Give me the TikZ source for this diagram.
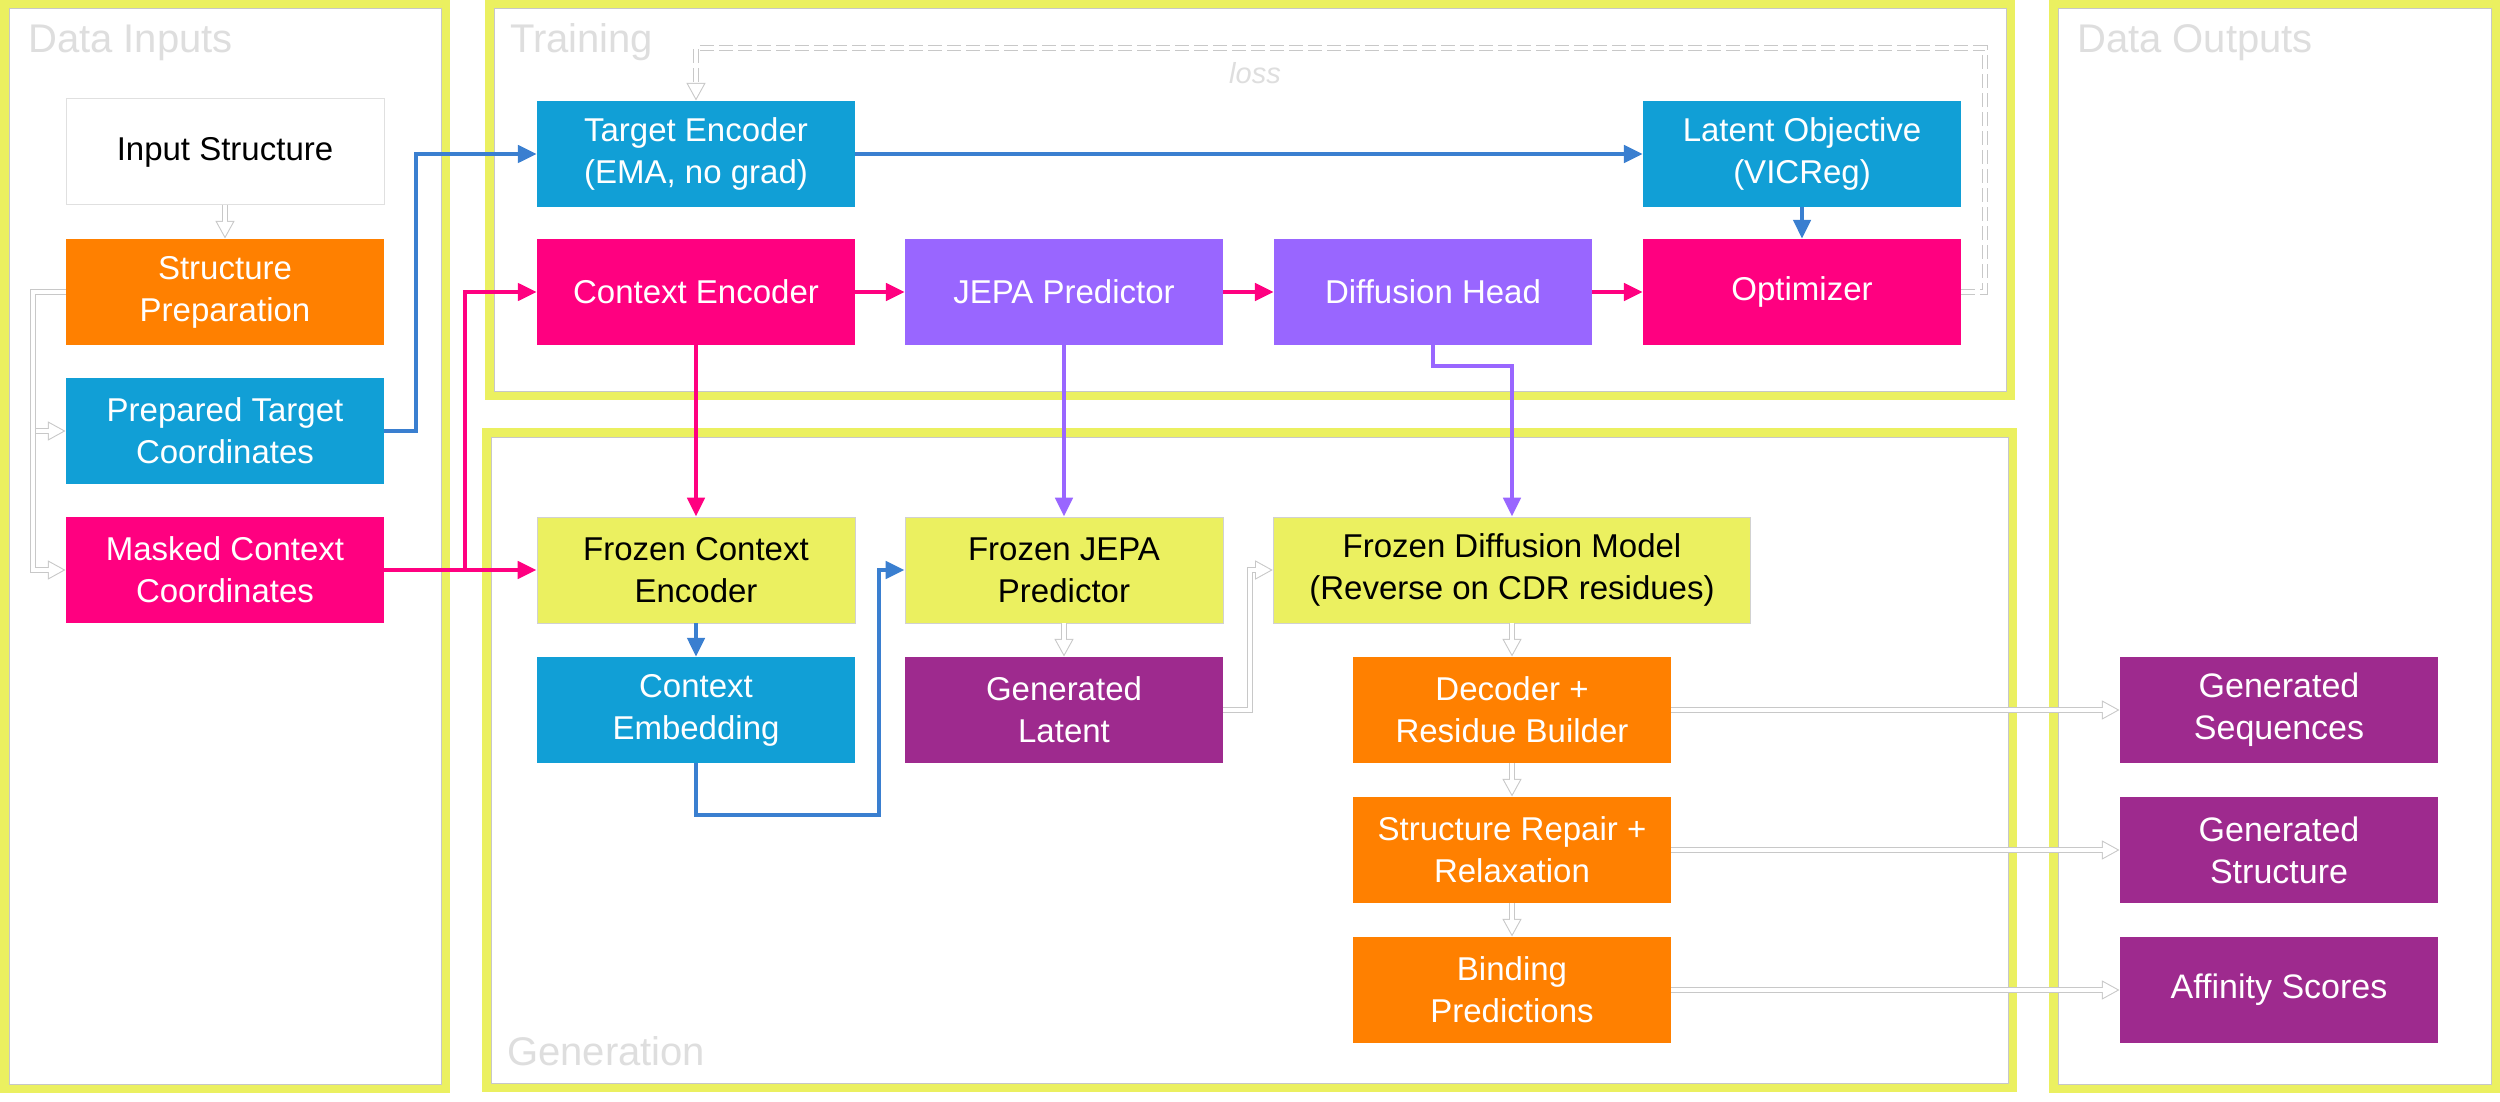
\documentclass[tikz,border=0pt]{standalone}
\usepackage{fontspec}
\setmainfont{Liberation Sans}
\usetikzlibrary{arrows.meta}
\definecolor{cblue}{HTML}{119FD6}
\definecolor{corange}{HTML}{FF8000}
\definecolor{cmag}{HTML}{FF0080}
\definecolor{cpurp}{HTML}{9966FF}
\definecolor{cdpurp}{HTML}{9E2A8E}
\definecolor{cyel}{HTML}{EBF060}
\definecolor{ablue}{HTML}{3A7FD0}
\definecolor{hcol}{HTML}{C8C8C8}
\newcommand\hollowpath[2][]{\draw[hol,#1] #2; \draw[holin,#1] #2;}
\tikzset{
 box/.style={minimum width=318pt, minimum height=106pt, inner sep=0pt, align=center,
   font=\fontsize{33}{42}\selectfont, text=white},
 bluebox/.style={box, fill=cblue},
 orbox/.style={box, fill=corange},
 magbox/.style={box, fill=cmag},
 purbox/.style={box, fill=cpurp},
 dpbox/.style={box, fill=cdpurp},
 outbox/.style={box, fill=cdpurp, font=\fontsize{34}{42}\selectfont},
 frzbox/.style={box, fill=cyel, text=black, draw=black!18, line width=0.8pt},
 whbox/.style={box, fill=white, text=black, draw=black!12, line width=1pt},
 frameline/.style={draw=cyel, line width=9pt},
 frameinner/.style={draw=black!22, line width=1pt},
 grptitle/.style={font=\fontsize{40}{48}\selectfont, text=black!13, anchor=base west, inner sep=0pt},
 arr/.style={line width=4.5pt, -{Triangle[length=19pt,width=17pt]}},
 hol/.style={draw=hcol, line width=6pt, -{Triangle[length=18pt,width=18pt]}},
 holin/.style={draw=white, line width=4pt, shorten >=2.2pt, -{Triangle[length=14.8pt,width=14.8pt]}},
}
\begin{document}
\begin{tikzpicture}[x=1pt,y=-1pt]
\path[use as bounding box, fill=white] (0,0) rectangle (2500,1102);
% frames
\draw[frameline] (4.5,4.5) rectangle (445.5,1088.5);
\draw[frameinner] (9,9) rectangle (441,1084);
\draw[frameline] (489.5,4.5) rectangle (2010.5,395.5);
\draw[frameinner] (494,9) rectangle (2006,391);
\draw[frameline] (486.5,432.5) rectangle (2012.5,1087.5);
\draw[frameinner] (491,437) rectangle (2008,1083);
\draw[frameline] (2053.5,4.5) rectangle (2495.5,1088.5);
\draw[frameinner] (2058,9) rectangle (2491,1084);
% titles
\node[grptitle] (tdi) at (28,53) {Data Inputs};
\node[grptitle] (ttr) at (510,53) {Training};
\node[grptitle] (tdo) at (2077,53) {Data Outputs};
\node[grptitle] (tge) at (507,1065) {Generation};
% data inputs
\node[whbox] (inp) at (225,152) {Input Structure};
\node[orbox] (prep) at (225,292) {Structure\\Preparation};
\node[bluebox] (ptc) at (225,431) {Prepared Target\\Coordinates};
\node[magbox] (mcc) at (225,570) {Masked Context\\Coordinates};
% training
\node[bluebox] (tenc) at (696,154) {Target Encoder\\(EMA, no grad)};
\node[magbox] (cenc) at (696,292) {Context Encoder};
\node[purbox] (jepa) at (1064,292) {JEPA Predictor};
\node[purbox] (dhead) at (1433,292) {Diffusion Head};
\node[magbox] (opt) at (1802,292) {Optimizer};
\node[bluebox] (lobj) at (1802,154) {Latent Objective\\(VICReg)};
% generation
\node[frzbox] (fcenc) at (696,570) {Frozen Context\\Encoder};
\node[bluebox] (cemb) at (696,710) {Context\\Embedding};
\node[frzbox] (fjepa) at (1064,570) {Frozen JEPA\\Predictor};
\node[dpbox] (glat) at (1064,710) {Generated\\Latent};
\node[frzbox, minimum width=477pt] (fdiff) at (1512,570) {Frozen Diffusion Model\\(Reverse on CDR residues)};
\node[orbox] (dec) at (1512,710) {Decoder +\\Residue Builder};
\node[orbox] (srep) at (1512,850) {Structure Repair +\\Relaxation};
\node[orbox] (bind) at (1512,990) {Binding\\Predictions};
% outputs
\node[outbox] (gseq) at (2279,710) {Generated\\Sequences};
\node[outbox] (gstr) at (2279,850) {Generated\\Structure};
\node[outbox] (aff) at (2279,990) {Affinity Scores};
% loss label
\node[font=\itshape\fontsize{29}{34}\selectfont, text=black!13, inner sep=0pt] (lossl) at (1255,73) {loss};
\coordinate (lr) at (1985,292);
\coordinate (lt) at (1985,48);
% solid connectors
\draw[arr, ablue] (ptc.east) -- ++(32,0) |- (tenc.west);
\draw[arr, cmag] (mcc.east) -- (fcenc.west);
\draw[arr, cmag] (mcc.east) -- ++(81,0) |- (cenc.west);
\draw[arr, ablue] (tenc) -- (lobj);
\draw[arr, ablue] (lobj) -- (opt);
\draw[arr, cmag] (cenc) -- (jepa);
\draw[arr, cmag] (jepa) -- (dhead);
\draw[arr, cmag] (dhead) -- (opt);
\draw[arr, cmag] (cenc) -- (fcenc);
\draw[arr, cpurp] (jepa) -- (fjepa);
\draw[arr, cpurp] (dhead.south) -- ++(0,21) -| (fdiff.north);
\draw[arr, ablue] (fcenc) -- (cemb);
\draw[arr, ablue] (cemb.south) |- (879,815) |- (fjepa.west);
% hollow connectors
\hollowpath{(inp) -- (prep)}
\hollowpath{(prep.west) -- ++(-33,0) |- (ptc.west)}
\hollowpath{(prep.west) -- ++(-33,0) |- (mcc.west)}
\hollowpath{(fjepa) -- (glat)}
\hollowpath{(glat.east) -- ++(27,0) |- (fdiff.west)}
\hollowpath{(fdiff) -- (dec)}
\hollowpath{(dec) -- (srep)}
\hollowpath{(srep) -- (bind)}
\hollowpath{(dec) -- (gseq)}
\hollowpath{(srep) -- (gstr)}
\hollowpath{(bind) -- (aff)}
\hollowpath[dash pattern=on 14pt off 5pt]{(opt.east) -- (lr) -- (lt) -| (tenc.north)}
\end{tikzpicture}
\end{document}
